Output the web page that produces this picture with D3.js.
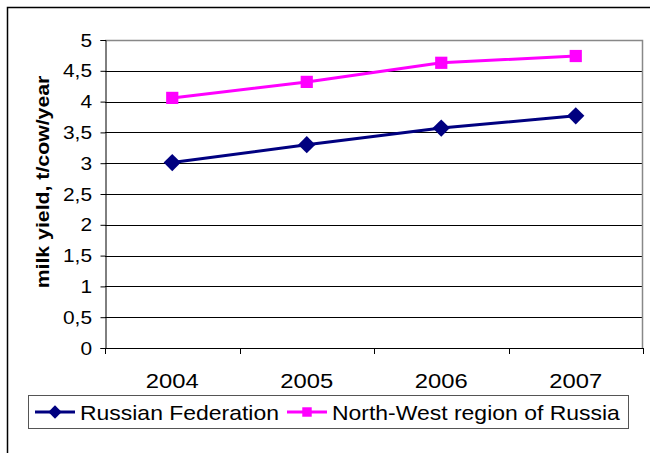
<!DOCTYPE html>
<html>
<head>
<meta charset="utf-8">
<script src="https://cdn.jsdelivr.net/npm/d3@7"></script>
<style>
  body { margin: 0; background: #fff; }
  svg { display: block; font-family: Arial, "Liberation Sans", sans-serif; }
</style>
</head>
<body>
<div id="container"></div>
<script>
/* DATA */
const years = ["2004", "2005", "2006", "2007"]
const russia = [3.01, 3.30, 3.57, 3.77]
const northWest = [4.06, 4.32, 4.63, 4.74]
const yTicks = [0, 0.5, 1, 1.5, 2, 2.5, 3, 3.5, 4, 4.5, 5]
const seriesNames = ["Russian Federation", "North-West region of Russia"]

/* CONSTANTS */
const width = 650, height = 453
const margin = { top: 40, right: 7, bottom: 105, left: 105 }
const stretch = 1.16   // text in the picture is a bit wider than tall

const svg = d3.select("#container").append("svg")
  .attr("width", width)
  .attr("height", height)

// outer frame (only left and top edges show)
svg.append("path")
  .attr("d", `M7.5,${height} V7.5 H${width}`)
  .attr("fill", "none")
  .attr("stroke", "#000")
  .attr("stroke-width", 1.5)

// SCALES
const xScale = d3.scaleBand()
  .domain(years)
  .range([margin.left, width - margin.right])

const yScale = d3.scaleLinear()
  .domain([0, 5])
  .range([height - margin.bottom, margin.top])

const x0 = margin.left, x1 = width - margin.right
const yBottom = yScale(0), yTop = yScale(5)

// gridlines
svg.append("g")
  .selectAll("line")
  .data(yTicks.filter(d => d > 0 && d < 5))
  .join("line")
  .attr("x1", x0).attr("x2", x1)
  .attr("y1", d => Math.round(yScale(d)) + 0.5)
  .attr("y2", d => Math.round(yScale(d)) + 0.5)
  .attr("stroke", "#000")

// plot border (top + right, grey)
svg.append("path")
  .attr("d", `M${x0},${Math.round(yTop) + 0.5} H${x1 - 0.5} V${yBottom}`)
  .attr("fill", "none")
  .attr("stroke", "#888")
  .attr("stroke-width", 1.5)

// Y AXIS
const yAxis = d3.axisLeft(yScale)
  .tickValues(yTicks)
  .tickSize(5)
  .tickPadding(0)
  .tickFormat(() => "")
const yG = svg.append("g")
  .attr("transform", `translate(${x0 + 0.5},0)`)
  .call(yAxis)
yG.select(".domain").attr("stroke", "#000")
yG.selectAll(".tick line").attr("stroke", "#000")

svg.append("g")
  .selectAll("text")
  .data(yTicks)
  .join("text")
  .attr("transform", d => `translate(92,${yScale(d) + 6.5}) scale(${stretch},1)`)
  .attr("text-anchor", "end")
  .attr("font-size", 18)
  .attr("fill", "#000")
  .text(d => d3.format("")(d).replace(".", ","))

// X AXIS
svg.append("line")
  .attr("x1", x0).attr("x2", x1)
  .attr("y1", Math.round(yBottom) + 0.5).attr("y2", Math.round(yBottom) + 0.5)
  .attr("stroke", "#000")

const boundaries = years.map(d => xScale(d)).concat([xScale(years[years.length - 1]) + xScale.bandwidth()])
svg.append("g")
  .selectAll("line")
  .data(boundaries)
  .join("line")
  .attr("x1", d => Math.round(d) + 0.5).attr("x2", d => Math.round(d) + 0.5)
  .attr("y1", yBottom).attr("y2", yBottom + 6)
  .attr("stroke", "#000")

svg.append("g")
  .selectAll("text")
  .data(years)
  .join("text")
  .attr("transform", d => `translate(${xScale(d) + xScale.bandwidth() / 2},388) scale(${stretch},1)`)
  .attr("text-anchor", "middle")
  .attr("font-size", 20.5)
  .attr("fill", "#000")
  .text(d => d)

// Y TITLE
svg.append("text")
  .attr("transform", `translate(49,${(yTop + yBottom) / 2 - 12}) rotate(-90) scale(1.15,1)`)
  .attr("text-anchor", "middle")
  .attr("font-size", 18.5)
  .attr("font-weight", "bold")
  .attr("fill", "#000")
  .text("milk yield, t/cow/year")

// LINES
const cx = d => xScale(d) + xScale.bandwidth() / 2
const lineGen = d3.line()
  .x((d, i) => cx(years[i]))
  .y(d => yScale(d))

const series = [
  { name: seriesNames[0], values: russia, color: "#000080", symbol: d3.symbolDiamond2, size: 190 },
  { name: seriesNames[1], values: northWest, color: "#FF00FF", symbol: d3.symbolSquare2, size: 190 }
]

series.forEach(s => {
  svg.append("path")
    .attr("d", lineGen(s.values))
    .attr("fill", "none")
    .attr("stroke", s.color)
    .attr("stroke-width", 3)

  svg.append("g")
    .selectAll("path")
    .data(s.values)
    .join("path")
    .attr("transform", (d, i) => `translate(${cx(years[i])},${yScale(d)})`)
    .attr("d", d3.symbol(s.symbol, s.size))
    .attr("fill", s.color)
})

// LEGEND
svg.append("rect")
  .attr("x", 28.5).attr("y", 395.5)
  .attr("width", 600).attr("height", 33)
  .attr("fill", "#fff")
  .attr("stroke", "#555")

const legendX = [35, 287]
series.forEach((s, i) => {
  const lx = legendX[i]
  svg.append("line")
    .attr("x1", lx).attr("x2", lx + 40)
    .attr("y1", 412).attr("y2", 412)
    .attr("stroke", s.color)
    .attr("stroke-width", 3)
  svg.append("path")
    .attr("transform", `translate(${lx + 20},412)`)
    .attr("d", d3.symbol(s.symbol, s.size * 0.6))
    .attr("fill", s.color)
  svg.append("text")
    .attr("transform", `translate(${lx + 45},420) scale(1.12,1)`)
    .attr("font-size", 20.5)
    .attr("fill", "#000")
    .text(s.name)
})
</script>
</body>
</html>
